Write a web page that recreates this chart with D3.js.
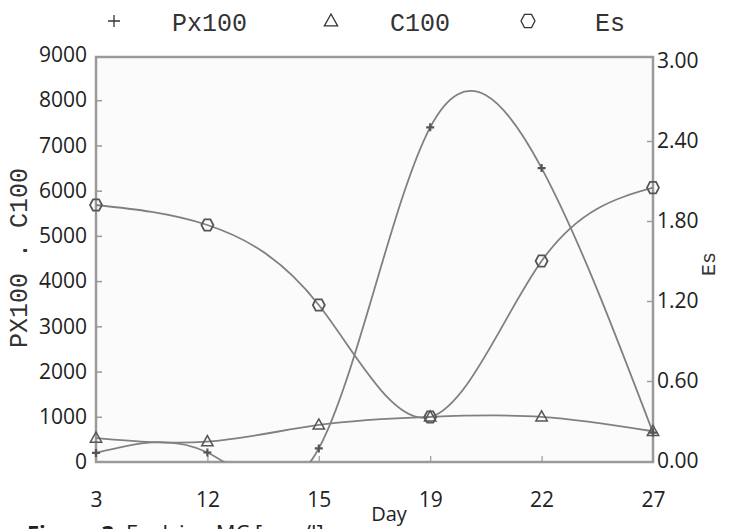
<!DOCTYPE html>
<html>
<head>
<meta charset="utf-8">
<script src="https://cdn.jsdelivr.net/npm/d3@7"></script>
<style>
  body { margin: 0; background: #fff; }
  svg { display: block; }
</style>
</head>
<body>
<div id="chart"></div>
<script>
// values
const days = ['3', '12', '15', '19', '22', '27']
const px100 = [200, 210, 300, 7400, 6500, 650]
const c100 = [530, 450, 820, 1000, 1000, 680]
const es = [1.92, 1.77, 1.17, 0.33, 1.5, 2.05]
const leftTicks = [0, 1000, 2000, 3000, 4000, 5000, 6000, 7000, 8000, 9000]
const rightTicks = [0, 0.6, 1.2, 1.8, 2.4, 3.0]

const W = 734
const H = 529
const box = { left: 96, right: 653, top: 57, bottom: 462 }
const axisCol = '#9a9a9a'
const lineCol = '#808080'
const tickFont = "'Open Sans', sans-serif"
const monoFont = "'Liberation Mono', monospace"

const svg = d3.select('#chart').append('svg').attr('width', W).attr('height', H)

const x = d3.scalePoint().domain(days).range([box.left, box.right]).padding(0)
const yL = d3.scaleLinear().domain([0, 9000]).range([box.bottom, 55])
const yR = d3.scaleLinear().domain([0, 3]).range([box.bottom - 1, 61])

svg.append('defs').append('clipPath').attr('id', 'plot')
  .append('rect')
  .attr('x', box.left).attr('y', box.top)
  .attr('width', box.right - box.left).attr('height', box.bottom - box.top)

// plot background + frame
svg.append('rect')
  .attr('x', box.left).attr('y', box.top)
  .attr('width', box.right - box.left).attr('height', box.bottom - box.top)
  .attr('fill', '#fbfbfb')
  .attr('stroke', axisCol).attr('stroke-width', 2.5)

// axes: ticks point inward, domain lines hidden (frame draws them)
const styleAxis = (g) => {
  g.select('.domain').remove()
  g.selectAll('.tick line').attr('stroke', axisCol).attr('stroke-width', 1.5)
  g.selectAll('.tick text').attr('fill', '#222').attr('font-family', tickFont).attr('font-size', 21)
}

svg.append('g')
  .attr('transform', `translate(0, ${box.bottom})`)
  .call(d3.axisBottom(x).tickSize(-6).tickPadding(30))
  .call(styleAxis)
  .call((g) => g.selectAll('.tick line').attr('stroke-width', 1.2))

svg.append('g')
  .attr('transform', `translate(${box.left}, 0)`)
  .call(d3.axisLeft(yL).tickValues(leftTicks).tickSize(-6).tickPadding(9).tickFormat(d3.format('d')))
  .call(styleAxis)
  .call((g) => g.selectAll('.tick').filter((d) => d === 0 || d === 9000).select('line').remove())

svg.append('g')
  .attr('transform', `translate(${box.right}, 0)`)
  .call(d3.axisRight(yR).tickValues(rightTicks).tickSize(-6).tickPadding(4).tickFormat(d3.format('.2f')))
  .call(styleAxis)
  .call((g) => g.selectAll('.tick').filter((d) => d === 0 || d === 3).select('line').remove())

// axis titles
svg.append('text')
  .text('PX100 . C100')
  .attr('transform', 'translate(27, 258) rotate(-90)')
  .attr('text-anchor', 'middle')
  .attr('font-family', monoFont).attr('font-size', 25).attr('fill', '#333')

svg.append('text')
  .text('Es')
  .attr('transform', 'translate(715, 264) rotate(-90)')
  .attr('text-anchor', 'middle')
  .attr('font-family', monoFont).attr('font-size', 20).attr('fill', '#333')

svg.append('text')
  .text('Day')
  .attr('x', 389).attr('y', 521)
  .attr('text-anchor', 'middle')
  .attr('font-family', tickFont).attr('font-size', 20).attr('fill', '#222')

// caption, cut off by the bottom edge
const cap = svg.append('text').attr('x', 27).attr('y', 541)
  .attr('font-family', tickFont).attr('font-size', 22).attr('fill', '#222')
cap.append('tspan').attr('font-weight', 'bold').text('Figure 3: ')
cap.append('tspan').text('Evolving MC [mm/l]')

// series
const series = [
  { name: 'Px100', values: px100, y: yL, marker: 'plus' },
  { name: 'C100', values: c100, y: yL, marker: 'tri' },
  { name: 'Es', values: es, y: yR, marker: 'hex' }
]

const lines = svg.append('g').attr('clip-path', 'url(#plot)')
series.forEach((s) => {
  const line = d3.line()
    .x((d, i) => x(days[i]))
    .y((d) => s.y(d))
    .curve(d3.curveNatural)
  lines.append('path')
    .datum(s.values)
    .attr('d', line)
    .attr('fill', 'none')
    .attr('stroke', lineCol)
    .attr('stroke-width', 1.8)
})

const hexPath = (r) => {
  const pts = d3.range(6).map((k) => {
    const a = Math.PI / 3 * k
    return [r * Math.cos(a), r * 1.1 * Math.sin(a)]
  })
  return 'M' + pts.join('L') + 'Z'
}
const triPath = (r) => `M0,${-r}L${r * 0.95},${r * 0.7}L${-r * 0.95},${r * 0.7}Z`

const drawMarker = (g, type, cx, cy, size, col) => {
  if (type === 'plus') {
    g.append('path')
      .attr('d', `M${cx - size},${cy}H${cx + size}M${cx},${cy - size}V${cy + size}`)
      .attr('stroke', col).attr('stroke-width', 2.2)
  } else if (type === 'tri') {
    g.append('path').attr('d', triPath(size))
      .attr('transform', `translate(${cx}, ${cy})`)
      .attr('fill', 'none').attr('stroke', col).attr('stroke-width', 1.5)
  } else {
    g.append('path').attr('d', hexPath(size))
      .attr('transform', `translate(${cx}, ${cy})`)
      .attr('fill', 'none').attr('stroke', col).attr('stroke-width', 1.8)
  }
}

const marks = svg.append('g')
series.forEach((s) => {
  s.values.forEach((v, i) => {
    drawMarker(marks, s.marker, x(days[i]), s.y(v), s.marker === 'plus' ? 4 : 6, '#555')
  })
})

// legend across the top
const legend = svg.append('g')
const legendItems = [
  { marker: 'plus', mx: 114, label: 'Px100', lx: 172 },
  { marker: 'tri', mx: 331, label: 'C100', lx: 390 },
  { marker: 'hex', mx: 528, label: 'Es', lx: 595 }
]
legendItems.forEach((d) => {
  drawMarker(legend, d.marker, d.mx, 21, d.marker === 'plus' ? 6 : 7, '#333')
  legend.append('text')
    .text(d.label)
    .attr('x', d.lx).attr('y', 31)
    .attr('font-family', monoFont).attr('font-size', 25).attr('fill', '#333')
})
legend.selectAll('path').attr('stroke-width', 1.3)
</script>
</body>
</html>
